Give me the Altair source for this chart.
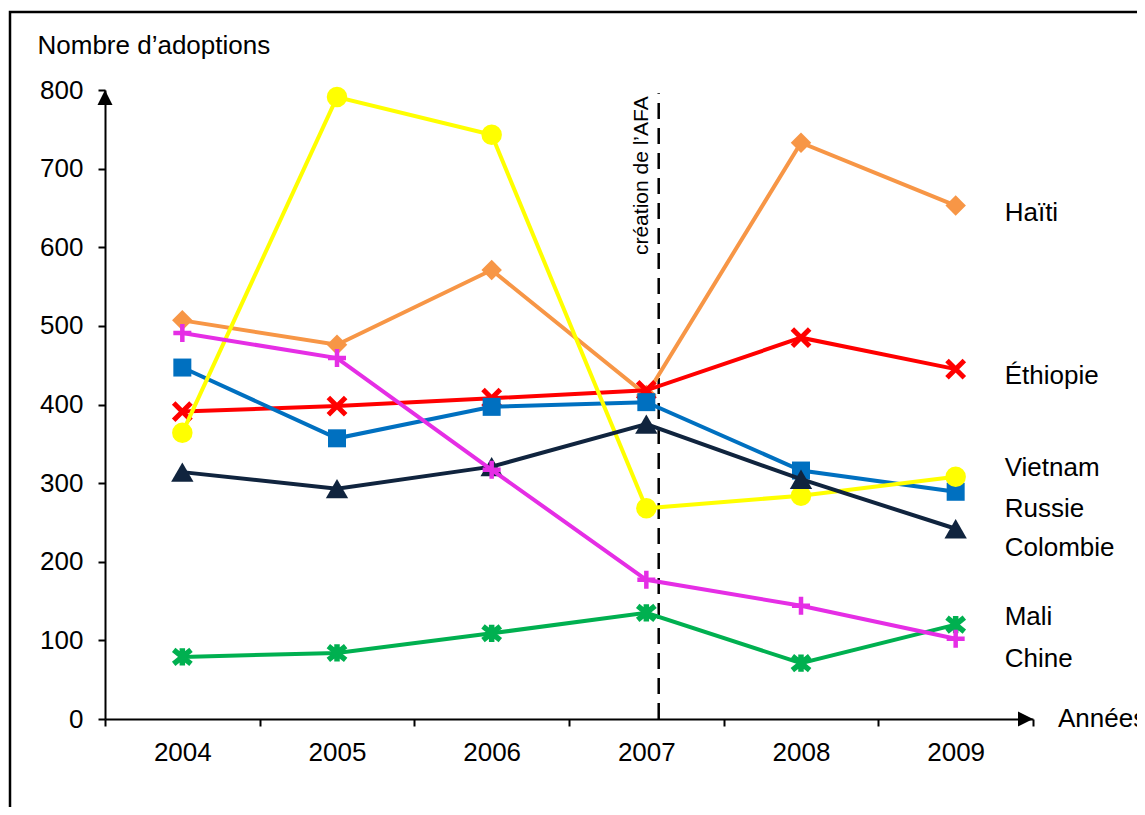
import altair as alt
import pandas as pd

years = [2004, 2005, 2006, 2007, 2008, 2009]
countries = ["Mali", "Haïti", "Éthiopie", "Russie", "Vietnam", "Colombie", "Chine"]
haiti = [507, 476, 571, 412, 733, 653]
ethiopie = [391, 398, 408, 418, 485, 445]
russie = [447, 357, 397, 403, 316, 289]
vietnam = [364, 791, 743, 268, 284, 308]
colombie = [314, 293, 321, 375, 305, 242]
chine = [491, 459, 317, 177, 144, 102]
mali = [79, 84, 109, 135, 71, 120]
series = {"Mali": mali, "Haïti": haiti, "Éthiopie": ethiopie, "Russie": russie,
          "Vietnam": vietnam, "Colombie": colombie, "Chine": chine}

# direct label anchors (value level of each right-hand label)
label_names = ["Haïti", "Éthiopie", "Vietnam", "Russie", "Colombie", "Mali", "Chine"]
label_levels = [644, 436, 319, 267, 218, 130, 76]

afa_year = [2007.08]
afa_text = ["création de l’AFA"]
y_ticks = [0, 100, 200, 300, 400, 500, 600, 700, 800]

FONT = "Liberation Sans"
FS = 26

styles = {
    "Mali": dict(color="#00B050", shape="M-1,-0.8L1,0.8M-1,0.8L1,-0.8M0,-1L0,1", size=300, filled=False, sw=5.5),
    "Haïti": dict(color="#F79646", shape="diamond", size=420, filled=True, sw=0),
    "Éthiopie": dict(color="#FF0000", shape="M-1,-1L1,1M-1,1L1,-1", size=300, filled=False, sw=5),
    "Russie": dict(color="#0070C0", shape="square", size=324, filled=True, sw=0),
    "Vietnam": dict(color="#FFFF00", shape="circle", size=420, filled=True, sw=0),
    "Colombie": dict(color="#10243E", shape="triangle-up", size=500, filled=True, sw=0),
    "Chine": dict(color="#E52EE5", shape="M-1,0L1,0M0,-1L0,1", size=324, filled=False, sw=4.5),
}

rows = []
for c in countries:
    for yr, v in zip(years, series[c]):
        rows.append({"year": yr, "value": v, "country": c})
df = pd.DataFrame(rows)

x_lo, x_hi = years[0] - 0.5, years[-1] + 0.5
x_ticks = [x_lo + 0.5 * i for i in range(2 * len(years) + 1)]

x_enc = alt.X(
    "year:Q",
    scale=alt.Scale(domain=[x_lo, x_hi], nice=False, zero=False),
    axis=alt.Axis(
        values=x_ticks,
        labelExpr="datum.value % 1 === 0 ? toString(datum.value) : ''",
        tickOpacity={"condition": {"test": "datum.value % 1 === 0", "value": 0}, "value": 1},
        title=None, grid=False, domainColor="black", domainWidth=2,
        tickColor="black", tickWidth=2, tickSize=7,
        labelFont=FONT, labelFontSize=FS, labelColor="black", labelPadding=13,
        labelOverlap=False, labelFlush=False,
    ),
)
y_enc = alt.Y(
    "value:Q",
    scale=alt.Scale(domain=[0, 800], nice=False),
    axis=alt.Axis(
        values=y_ticks, title="Nombre d’adoptions", titleAngle=0, titleAlign="left",
        titleBaseline="alphabetic", titleX=-68, titleY=-37, titleFont=FONT,
        titleFontSize=FS, titleFontWeight="normal", titleColor="black",
        grid=False, domainColor="black", domainWidth=2, tickColor="black",
        tickWidth=2, tickSize=7, labelFont=FONT, labelFontSize=FS,
        labelColor="black", labelPadding=15,
    ),
)

base = alt.Chart(df)
layers = []

# frame
frame = alt.Chart(pd.DataFrame({"a": [0]})).mark_rect(
    fillOpacity=0, stroke="black", strokeWidth=2.5
).encode(x=alt.value(-95), x2=alt.value(1400), y=alt.value(-78), y2=alt.value(1100))
layers.append(frame)

# dashed AFA line + label
afa_df = pd.DataFrame({"year": afa_year, "y0": [0], "y1": [796], "text": afa_text, "ty": [792]})
layers.append(alt.Chart(afa_df).mark_rule(color="black", strokeWidth=2.5, strokeDash=[16, 9]).encode(
    x="year:Q", y="y0:Q", y2="y1:Q"))
layers.append(alt.Chart(afa_df).mark_text(
    angle=270, align="right", baseline="bottom", dy=-7, font=FONT, fontSize=21, color="black"
).encode(x="year:Q", y="ty:Q", text="text:N"))

for c in countries:
    s = styles[c]
    sub = base.transform_filter(alt.datum.country == c)
    layers.append(sub.mark_line(color=s["color"], strokeWidth=4).encode(x=x_enc, y=y_enc))
    if s["filled"]:
        pm = sub.mark_point(shape=s["shape"], size=s["size"], filled=True, fill=s["color"], opacity=1)
    else:
        pm = sub.mark_point(shape=s["shape"], size=s["size"], filled=False, stroke=s["color"],
                            strokeWidth=s["sw"], opacity=1)
    layers.append(pm.encode(x=x_enc, y=y_enc))

# arrowheads
arr_df = pd.DataFrame({"year": [x_lo, x_hi], "value": [y_ticks[-1], 0],
                       "kind": ["up", "right"]})
layers.append(alt.Chart(arr_df).transform_filter(alt.datum.kind == "up").mark_point(
    shape="M0,0L-1,2L1,2Z", size=225, filled=True, fill="black", opacity=1).encode(x="year:Q", y="value:Q"))
layers.append(alt.Chart(arr_df).transform_filter(alt.datum.kind == "right").mark_point(
    shape="M0,0L-2,-1L-2,1Z", size=225, filled=True, fill="black", opacity=1).encode(x="year:Q", y="value:Q"))

# direct labels
lab_df = pd.DataFrame({"name": label_names, "value": label_levels, "year": [years[-1]] * len(label_names)})
layers.append(alt.Chart(lab_df).mark_text(
    align="left", baseline="middle", dx=49, font=FONT, fontSize=FS, color="black"
).encode(x="year:Q", y="value:Q", text="name:N"))

# axis name
ax_df = pd.DataFrame({"year": [x_hi], "value": [0], "t": ["Années"]})
layers.append(alt.Chart(ax_df).mark_text(
    align="left", baseline="middle", dx=25, font=FONT, fontSize=FS, color="black"
).encode(x="year:Q", y="value:Q", text="t:N"))

chart = alt.layer(*layers).properties(
    width=928, height=629, autosize="none",
    padding={"left": 97, "top": 82, "right": 104, "bottom": 88},
).configure_view(strokeWidth=0)

chart.save("out.html", embed_options={"renderer": "svg", "actions": False})
